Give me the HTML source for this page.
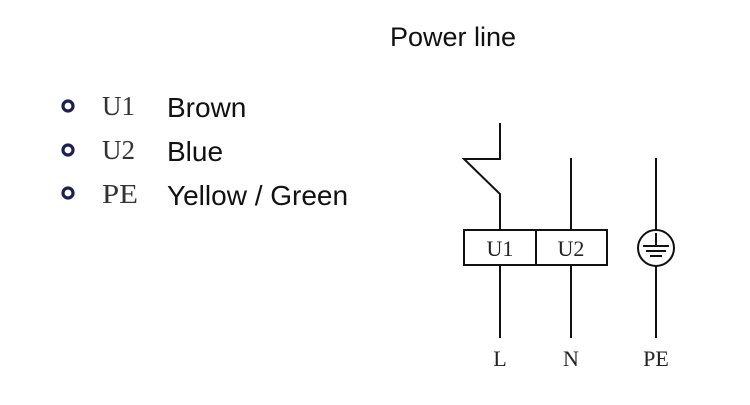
<!DOCTYPE html>
<html><head><style>body{margin:0;background:#fff}</style></head><body>
<svg width="750" height="400" xmlns="http://www.w3.org/2000/svg">
<text x="453" y="46" font-family="Liberation Sans, sans-serif" font-size="27" text-anchor="middle" fill="#111">Power line</text>
<g fill="none" stroke="#1c2050" stroke-width="3.2">
<circle cx="68" cy="106" r="5"/><circle cx="68" cy="150" r="5"/><circle cx="68" cy="193" r="5"/>
</g>
<g font-family="Liberation Serif, serif" font-size="27" fill="#333">
<text x="102" y="115" textLength="33" lengthAdjust="spacingAndGlyphs">U1</text><text x="102" y="159" textLength="33" lengthAdjust="spacingAndGlyphs">U2</text><text x="102" y="203" textLength="36" lengthAdjust="spacingAndGlyphs">PE</text>
</g>
<g font-family="Liberation Sans, sans-serif" font-size="28" fill="#111">
<text x="167" y="117">Brown</text><text x="167" y="161">Blue</text><text x="167" y="205">Yellow / Green</text>
</g>
<g fill="none" stroke="#111" stroke-width="2">
<polyline points="500,123 500,159 464,159 500,194 500,230"/>
<line x1="571" y1="158" x2="571" y2="230"/>
<line x1="656" y1="158" x2="656" y2="230"/>
<rect x="464" y="230" width="143" height="35"/>
<line x1="536" y1="230" x2="536" y2="265"/>
<line x1="500" y1="265" x2="500" y2="338"/>
<line x1="571" y1="265" x2="571" y2="338"/>
<circle cx="656" cy="248" r="18"/>
<line x1="656" y1="266" x2="656" y2="338"/>
<line x1="656" y1="233" x2="656" y2="246"/>
<line x1="643" y1="246" x2="669" y2="246"/>
<line x1="646" y1="251" x2="666" y2="251"/>
<line x1="650" y1="256" x2="662" y2="256"/>
</g>
<g font-family="Liberation Serif, serif" font-size="22" fill="#222" text-anchor="middle">
<text x="500" y="256">U1</text><text x="571" y="256">U2</text>
<text x="500" y="366">L</text><text x="571" y="366">N</text><text x="656" y="366">PE</text>
</g>
</svg>
</body></html>
